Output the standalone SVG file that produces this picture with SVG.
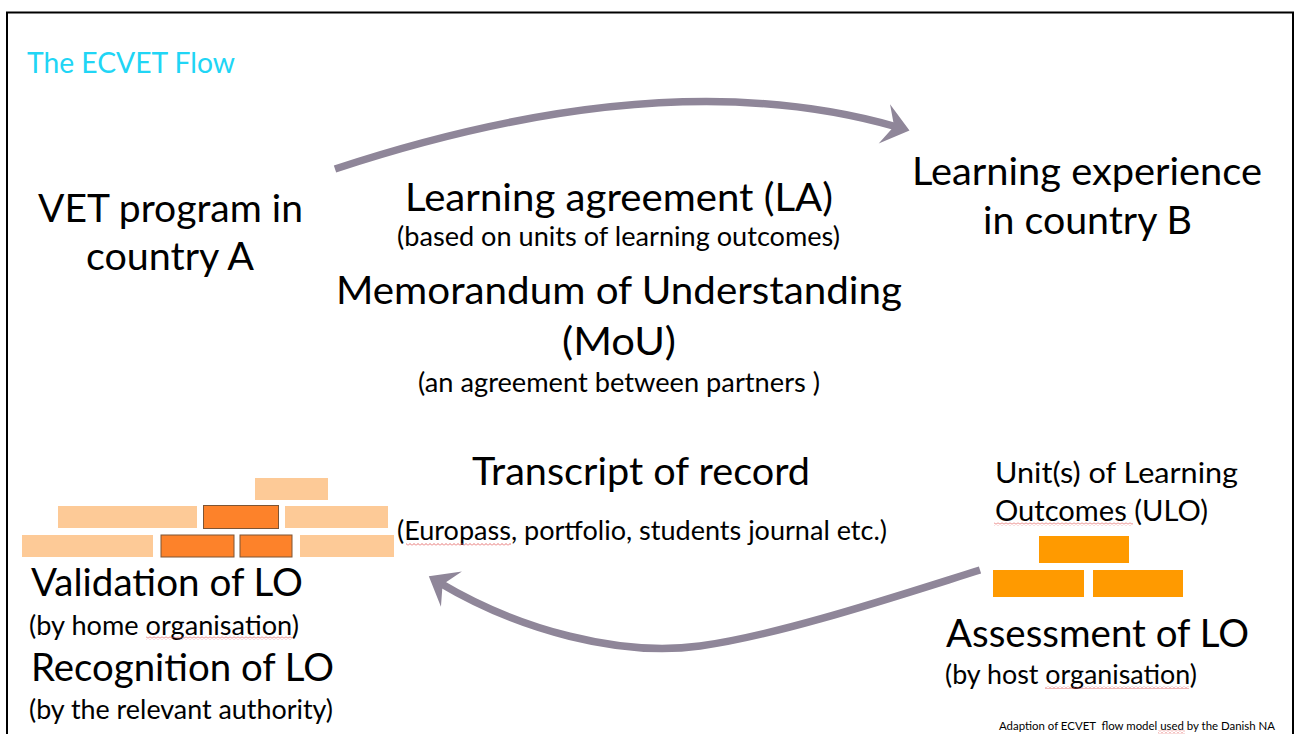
<svg xmlns="http://www.w3.org/2000/svg" width="1295" height="734" viewBox="0 0 1295 734">
  <defs>
    <style>
      text { font-family: Lato, "Liberation Sans", sans-serif; fill: #000; }
      .title { font-size: 29.5px; fill: #20d5f5; }
      .big { font-size: 38.5px; }
      .mid { font-size: 29.5px; }
      .small { font-size: 26.5px; }
      .note { font-size: 11.5px; }
      .flow { fill: none; stroke: #8f8699; stroke-width: 7.5; }
      .brick-light { fill: #fdca97; }
      .brick-dark { fill: #fd822a; stroke: #7d5535; stroke-width: 1; }
      .brick-ulo { fill: #ff9a00; }
      .squiggle { fill: url(#wave); }
    </style>
    <marker id="head" markerUnits="userSpaceOnUse" viewBox="-27 -22 29 44" refX="-13" refY="0" markerWidth="29" markerHeight="44" orient="auto">
      <path d="M0,0 L-26,-20 L-16,0 L-26,21 Z" fill="#8f8699"/>
    </marker>
    <pattern id="wave" width="4" height="3" patternUnits="userSpaceOnUse">
      <path d="M0,2.5 L2,0.5 L4,2.5" fill="none" stroke="#e0504e" stroke-width="0.8"/>
    </pattern>
  </defs>

  <rect width="1295" height="734" fill="#fff"/>
  <rect x="7" y="12.5" width="1286" height="740" fill="none" stroke="#000" stroke-width="2"/>

  <g id="title">
    <text class="title" x="27" y="72.5" textLength="208" lengthAdjust="spacingAndGlyphs">The ECVET Flow</text>
  </g>

  <g id="connectors">
    <path class="flow" d="M335,169 C520,108 720,76 897,127" marker-end="url(#head)"/>
    <path class="flow" d="M980,570 C900,595 780,635 700,646 S519,630 440,583" marker-end="url(#head)"/>
  </g>

  <g id="vet-program">
    <text class="big" x="38" y="222" textLength="265" lengthAdjust="spacingAndGlyphs">VET program in</text>
    <text class="big" x="86" y="270" textLength="168" lengthAdjust="spacingAndGlyphs">country A</text>
  </g>

  <g id="learning-experience">
    <text class="big" x="912" y="185" textLength="350" lengthAdjust="spacingAndGlyphs">Learning experience</text>
    <text class="big" x="983" y="234" textLength="209" lengthAdjust="spacingAndGlyphs">in country B</text>
  </g>

  <g id="agreements">
    <text class="big" x="405" y="211" textLength="428" lengthAdjust="spacingAndGlyphs">Learning agreement (LA)</text>
    <text class="small" x="397" y="246" textLength="443" lengthAdjust="spacingAndGlyphs">(based on units of learning outcomes)</text>
    <text class="big" x="336" y="304" textLength="566" lengthAdjust="spacingAndGlyphs">Memorandum of Understanding</text>
    <text class="big" x="562" y="355" textLength="114" lengthAdjust="spacingAndGlyphs">(MoU)</text>
    <text class="small" x="418" y="392" textLength="402" lengthAdjust="spacingAndGlyphs">(an agreement between partners )</text>
  </g>

  <g id="transcript">
    <text class="big" x="472" y="485" textLength="338" lengthAdjust="spacingAndGlyphs">Transcript of record</text>
    <text class="small" x="397" y="540" textLength="490" lengthAdjust="spacingAndGlyphs">(Europass, portfolio, students journal etc.)</text>
    <rect class="squiggle" x="406" y="543" width="105" height="3"/>
  </g>

  <g id="units-of-learning-outcomes">
    <text class="mid" x="995" y="483" textLength="243" lengthAdjust="spacingAndGlyphs">Unit(s) of Learning</text>
    <text class="mid" x="995" y="521" textLength="213" lengthAdjust="spacingAndGlyphs">Outcomes (ULO)</text>
    <rect class="squiggle" x="994" y="522.5" width="139" height="3"/>
    <rect class="brick-ulo" x="1039" y="536" width="90" height="27"/>
    <rect class="brick-ulo" x="993" y="570" width="91" height="27"/>
    <rect class="brick-ulo" x="1093" y="570" width="90" height="27"/>
  </g>

  <g id="assessment">
    <text class="big" x="946" y="647" textLength="303" lengthAdjust="spacingAndGlyphs">Assessment of LO</text>
    <text class="small" x="945" y="684" textLength="252" lengthAdjust="spacingAndGlyphs">(by host organisation)</text>
    <rect class="squiggle" x="1045" y="686" width="144" height="3"/>
  </g>

  <g id="validation-recognition">
    <rect class="brick-light" x="255" y="478" width="73" height="22"/>
    <rect class="brick-light" x="58" y="506" width="139" height="22"/>
    <rect class="brick-dark" x="203.5" y="505.5" width="75" height="23"/>
    <rect class="brick-light" x="285" y="506" width="103" height="22"/>
    <rect class="brick-light" x="22" y="535" width="131" height="22"/>
    <rect class="brick-dark" x="161" y="535" width="73" height="22"/>
    <rect class="brick-dark" x="240" y="535" width="52" height="22"/>
    <rect class="brick-light" x="300" y="535" width="94" height="22"/>
    <text class="big" x="31" y="596" textLength="272" lengthAdjust="spacingAndGlyphs">Validation of LO</text>
    <text class="small" x="29" y="635" textLength="270" lengthAdjust="spacingAndGlyphs">(by home organisation)</text>
    <rect class="squiggle" x="146" y="636.5" width="146" height="3"/>
    <text class="big" x="31" y="681" textLength="303" lengthAdjust="spacingAndGlyphs">Recognition of LO</text>
    <text class="small" x="29" y="719" textLength="304" lengthAdjust="spacingAndGlyphs">(by the relevant authority)</text>
  </g>

  <g id="source-note">
    <text class="note" x="999" y="730" textLength="276" lengthAdjust="spacingAndGlyphs" xml:space="preserve">Adaption of ECVET  flow model used by the Danish NA</text>
    <rect class="squiggle" x="1158" y="730.5" width="27" height="3"/>
  </g>
</svg>
